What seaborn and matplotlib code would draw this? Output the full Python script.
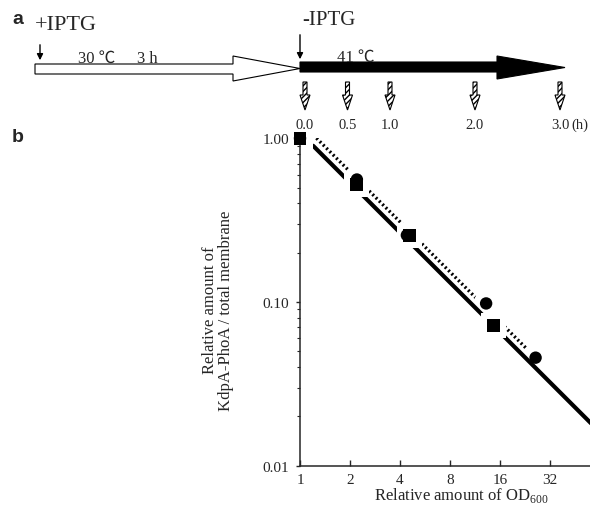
import numpy as np
import pandas as pd
import matplotlib
matplotlib.use('Agg')
import matplotlib.pyplot as plt
import seaborn as sns
from matplotlib.patches import Polygon
from matplotlib.ticker import FixedLocator, FixedFormatter, LogLocator, NullFormatter

# panel b data
square_od = [1.0, 2.2, 4.55, 14.6]
square_amount = [1.0, 0.52, 0.256, 0.072]
circle_od = [1.0, 2.2, 4.4, 13.2, 26.2]
circle_amount = [1.0, 0.56, 0.256, 0.098, 0.0457]

# fitted lines, visible end points
solid_od = [1.2, 64.0]
solid_amount = [0.90, 0.016]
dotted_od = [1.2, 26.2]
dotted_amount = [1.05, 0.0457]

x_ticks = [1, 2, 4, 8, 16, 32]
y_ticks = [0.01, 0.1, 1.0]
y_ticklabels = ['0.01', '0.10', '1.00']

# panel a: sampling times (h) after the shift
sample_times = [0.0, 0.5, 1.0, 2.0, 3.0]
sample_labels = ['0.0', '0.5', '1.0', '2.0', '3.0']

sns.set_style('ticks')
plt.rcParams['font.family'] = ['Liberation Serif', 'Noto Sans CJK JP', 'DejaVu Sans']
plt.rcParams['hatch.linewidth'] = 1.0

fig = plt.figure(figsize=(5.9, 5.06), dpi=100)

# ---- panel b: log-log plot ----
ax = fig.add_axes([300 / 590, 39.3 / 506, 290 / 590, 327.4 / 506])
ax.patch.set_alpha(0)

sns.lineplot(x=dotted_od, y=dotted_amount, ax=ax, color='black', lw=2.4,
             linestyle=(0, (0.6, 0.8)), zorder=2)
sns.scatterplot(x=circle_od, y=circle_amount, ax=ax, marker='o', s=330,
                color='white', edgecolor='none', zorder=3)
sns.lineplot(x=solid_od, y=solid_amount, ax=ax, color='black', lw=3.0, zorder=4)
sns.scatterplot(x=square_od, y=square_amount, ax=ax, marker='s', s=330,
                color='white', edgecolor='none', zorder=5)
sns.scatterplot(x=square_od, y=square_amount, ax=ax, marker='s', s=85,
                color='black', edgecolor='none', zorder=6)
sns.scatterplot(x=circle_od, y=circle_amount, ax=ax, marker='o', s=80,
                color='black', edgecolor='none', zorder=6)
for coll in ax.collections:
    coll.set_clip_on(False)

ax.set_xscale('log', base=2)
ax.set_yscale('log')
ax.set_xlim(1, 2 ** 5.8)
ax.set_ylim(0.01, 1.0)

ax.xaxis.set_major_locator(FixedLocator(x_ticks))
ax.xaxis.set_major_formatter(FixedFormatter([str(v) for v in x_ticks]))
ax.xaxis.set_minor_locator(FixedLocator([]))
ax.yaxis.set_major_locator(FixedLocator(y_ticks))
ax.yaxis.set_major_formatter(FixedFormatter(y_ticklabels))
ax.yaxis.set_minor_locator(LogLocator(base=10, subs=np.arange(2, 10)))
ax.yaxis.set_minor_formatter(NullFormatter())

ax.tick_params(axis='x', direction='in', length=4, width=1, labelsize=11, pad=5)
ax.tick_params(axis='y', which='major', direction='out', length=3, width=1, labelsize=11, pad=5)
ax.tick_params(axis='y', which='minor', direction='out', length=2, width=0.8)

sns.despine(ax=ax)
for sp in ax.spines.values():
    sp.set_linewidth(1.1)
    sp.set_zorder(5.5)
ax.xaxis.set_zorder(5.5)
ax.yaxis.set_zorder(5.5)

ax.set_xlabel('Relative amount of OD$_{\\mathregular{600}}$', fontsize=12)
ax.xaxis.set_label_coords(0.555, -0.058)
ax.set_ylabel('Relative amount of\nKdpA-PhoA / total membrane', fontsize=12,
              linespacing=1.0, va='center')
ax.yaxis.set_label_coords(-0.283, 0.477)

# ---- panel a: schematic, drawn in pixel units, on top ----
sch = fig.add_axes([0, 0, 1, 1])
sch.set_xlim(0, 590)
sch.set_ylim(506, 0)
sch.axis('off')
sch.patch.set_alpha(0)
sch.set_zorder(10)

open_arrow = Polygon([(35, 65), (233, 65), (233, 57), (300, 69.5), (233, 82), (233, 75), (35, 75)],
                     closed=True, facecolor='white', edgecolor='black', lw=0.8)
black_arrow = Polygon([(300, 63), (497, 63), (497, 57), (565, 68.5), (497, 80), (497, 73), (300, 73)],
                      closed=True, facecolor='black', edgecolor='black', lw=0.8)
sch.add_patch(open_arrow)
sch.add_patch(black_arrow)

sch.annotate('', xy=(40, 64), xytext=(40, 43),
             arrowprops=dict(arrowstyle='-|>', color='black', lw=1, mutation_scale=9))
sch.annotate('', xy=(300, 63), xytext=(300, 33),
             arrowprops=dict(arrowstyle='-|>', color='black', lw=1, mutation_scale=9))

sch.text(35, 25, '+IPTG', fontsize=16, va='center', ha='left')
sch.text(302, 20, '-IPTG', fontsize=15, va='center', ha='left')
sch.text(78, 63, '30 ℃', fontsize=12, va='baseline', ha='left')
sch.text(137, 63, '3 h', fontsize=12, va='baseline', ha='left')
sch.text(337, 62, '41 ℃', fontsize=12, va='baseline', ha='left')

sch.text(18, 19, 'a', fontsize=14, fontweight='bold', family='Liberation Sans', va='center', ha='center')
sch.text(18, 137, 'b', fontsize=14, fontweight='bold', family='Liberation Sans', va='center', ha='center')

t0_px, px_per_h = 305, 85
for t, lab in zip(sample_times, sample_labels):
    xc = t0_px + px_per_h * t
    icon = Polygon([(xc - 2, 83), (xc + 2, 83), (xc + 2, 96), (xc + 5, 96), (xc, 111),
                    (xc - 5, 96), (xc - 2, 96)], closed=True,
                   facecolor='white', edgecolor='black', lw=0.8, hatch='//////')
    sch.add_patch(icon)
    sch.text(xc, 125, lab, fontsize=10.5, va='center', ha='center')
sch.text(t0_px + px_per_h * sample_times[-1] + 11, 125, '(h)', fontsize=10.5, va='center', ha='left')

fig.savefig('out.png', dpi=100)
